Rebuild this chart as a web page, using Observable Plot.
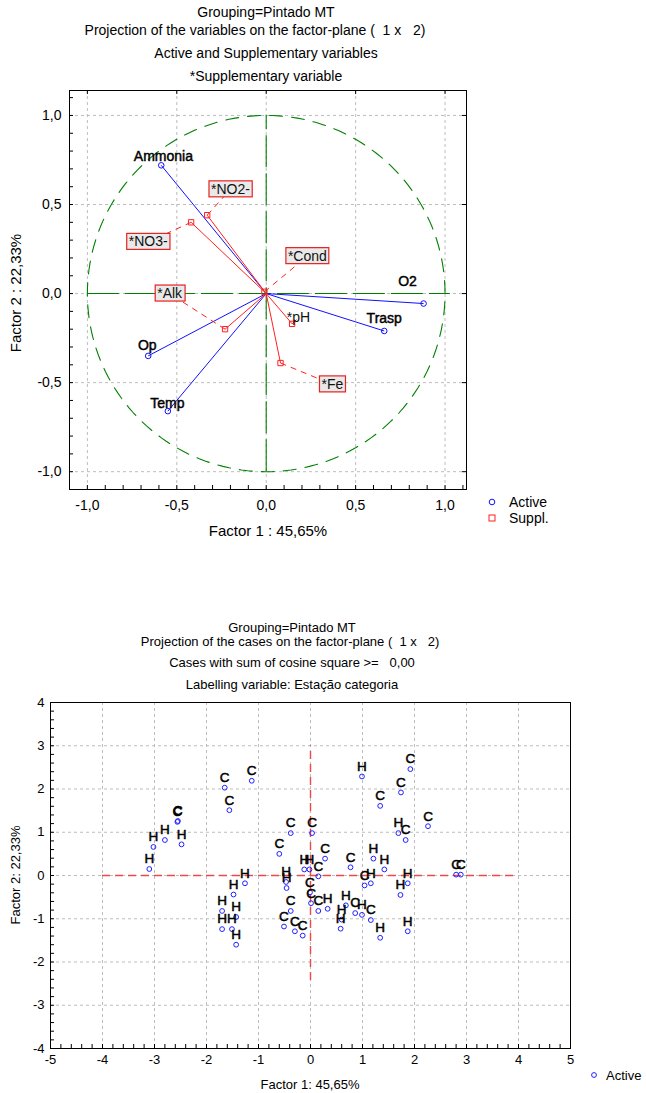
<!DOCTYPE html>
<html><head><meta charset="utf-8">
<script src="https://cdn.jsdelivr.net/npm/d3@7"></script>
<script src="https://cdn.jsdelivr.net/npm/@observablehq/plot@0.6"></script>
<style>
body{margin:0;background:#fff;font-family:"Liberation Sans",Arial,sans-serif;}
#page{position:relative;width:646px;height:1093px;overflow:hidden;background:#fff;}
.t{position:absolute;white-space:pre;color:#000;line-height:1;transform:translateX(-50%);}
.yt{position:absolute;white-space:pre;color:#000;line-height:1;transform:translate(-50%,-50%) rotate(-90deg);}
.lg{position:absolute;white-space:pre;color:#000;line-height:1;}
.plot{position:absolute;left:0;}
</style></head><body><div id="page"></div>
<script>
// ---------- Data: variables plot ----------
const varNames  = ["Ammonia", "O2", "Trasp", "Op", "Temp"];
const varF1     = [-0.587, 0.88, 0.66, -0.66, -0.55];
const varF2     = [0.72, -0.056, -0.21, -0.35, -0.66];
const varLabF1  = [-0.575, 0.79, 0.66, -0.665, -0.553];
const varLabF2  = [0.77, 0.07, -0.14, -0.29, -0.615];

const supNames  = ["*NO2-", "*NO3-", "*Cond", "*Alk", "*pH", "*Fe"];
const supF1     = [-0.33, -0.42, -0.01, -0.23, 0.145, 0.08];
const supF2     = [0.44, 0.40, 0.01, -0.20, -0.17, -0.39];
const supLabF1  = [-0.20, -0.66, 0.23, -0.54, 0.18, 0.37];
const supLabF2  = [0.585, 0.29, 0.21, 0.0, -0.135, -0.51];
const supBoxed  = [true, true, true, true, false, true];

const topTicks = [-1, -0.5, 0, 0.5, 1];

// ---------- Data: cases plot ----------
const caseF1 = [-1.65,-1.13,-1.56,-2.56,-2.55,-2.80,-3.02,-2.48,-3.10,-0.60,
  -1.26,-1.48,-1.70,-1.43,-1.70,-1.51,-1.43,0.99,1.92,1.74,
  1.34,-0.38,0.03,1.69,1.83,2.26,0.28,1.21,1.42,0.77,
  -0.12,-0.02,0.15,2.80,2.89,1.04,1.16,1.87,1.73,-0.47,
  -0.46,-0.01,0.01,0.15,0.33,0.68,0.86,0.99,1.16,0.60,
  0.58,-0.38,-0.51,-0.30,-0.15,1.34,1.87];
const caseF2 = [2.03,2.19,1.51,1.24,1.26,0.82,0.66,0.72,0.15,0.50,
  -0.18,-0.44,-0.82,-0.96,-1.24,-1.24,-1.60,2.29,2.46,1.92,
  1.61,0.98,0.98,0.98,0.82,1.14,0.39,0.39,0.14,0.19,
  0.14,0.14,-0.02,0.02,0.02,-0.23,-0.18,-0.18,-0.45,-0.15,
  -0.29,-0.39,-0.64,-0.82,-0.77,-0.69,-0.87,-0.91,-1.03,-1.02,
  -1.23,-0.82,-1.18,-1.29,-1.39,-1.44,-1.29];
const caseLab = ["C","C","C","C","C","H","H","H","H","C",
  "H","H","H","H","H","H","H","H","C","C",
  "C","C","C","H","C","C","C","H","H","C",
  "H","H","C","C","C","C","H","H","H","H",
  "H","C","C","C","H","H","C","H","C","H",
  "H","C","C","C","C","H","H"];

const botTicksX = [-5,-4,-3,-2,-1,0,1,2,3,4,5];
const botTicksY = [-4,-3,-2,-1,0,1,2,3,4];

// ---------- helpers ----------
const FONT = "Liberation Sans, Arial, sans-serif";
const page = document.getElementById("page");
function addDiv(cls, text, x, y, size, extra) {
  const d = document.createElement("div");
  d.className = cls; d.textContent = text;
  d.style.left = x + "px"; d.style.top = y + "px"; d.style.fontSize = size + "px";
  if (extra) Object.assign(d.style, extra);
  page.appendChild(d);
  return d;
}
const fmt1 = d => (d < 0 ? "-" : "") + Math.abs(d).toFixed(1).replace(".", ",");
const fmt0 = d => (d < 0 ? "-" : "") + Math.abs(d);

// ---------- Top plot ----------
const vars = varNames.map((n, i) => ({n, x: varF1[i], y: varF2[i], lx: varLabF1[i], ly: varLabF2[i]}));
const sups = supNames.map((n, i) => ({n, x: supF1[i], y: supF2[i], lx: supLabF1[i], ly: supLabF2[i]}));
const circle = d3.range(0, 361, 2).map(a => ({x: Math.cos(a * Math.PI / 180), y: Math.sin(a * Math.PI / 180)}));
const tXd = [-1.1, 1.12], tYd = [-1.1, 1.14];
const tMinorX = d3.range(-11, 12).map(k => k / 10);
const tMinorY = d3.range(-11, 12).map(k => k / 10);

const topPlot = Plot.plot({
  width: 646, height: 545,
  marginLeft: 69, marginRight: 180, marginTop: 90, marginBottom: 56,
  x: {domain: tXd, axis: null},
  y: {domain: tYd, axis: null},
  style: {fontFamily: FONT, fontSize: "14px", background: "transparent", color: "black", overflow: "visible"},
  marks: [
    Plot.ruleX(topTicks, {x: d => d, stroke: "#bdbdbd", strokeDasharray: "3,3"}),
    Plot.ruleY(topTicks, {y: d => d, stroke: "#bdbdbd", strokeDasharray: "3,3"}),
    Plot.line(circle, {x: "x", y: "y", stroke: "#008000", strokeWidth: 1.1, strokeDasharray: "13,9"}),
    Plot.ruleX([0], {x: d => d, y1: -1, y2: 1, stroke: "#008000", strokeWidth: 1.1, strokeDasharray: "32,6"}),
    Plot.ruleY([0], {y: d => d, x1: -1, x2: 1.03, stroke: "#008000", strokeWidth: 1.1, strokeDasharray: "32,6"}),
    Plot.link(vars, {x1: 0, y1: 0, x2: "x", y2: "y", stroke: "#1010ff", strokeWidth: 1}),
    Plot.link(sups, {x1: 0, y1: 0, x2: "x", y2: "y", stroke: "#ff2020", strokeWidth: 1}),
    Plot.link(sups, {x1: "x", y1: "y", x2: "lx", y2: "ly", stroke: "#ff2020", strokeWidth: 1, strokeDasharray: "6,5"}),
    Plot.dot(vars, {x: "x", y: "y", r: 2.8, stroke: "#1010ff", fill: "none", strokeWidth: 1}),
    Plot.dot(sups, {x: "x", y: "y", r: 3, symbol: "square", stroke: "#ff2020", fill: "none", strokeWidth: 1}),
    Plot.text(vars, {x: "lx", y: "ly", text: "n", fill: "black", stroke: "black", strokeWidth: 0.45, fontSize: 14}),
    Plot.text(sups, {x: "lx", y: "ly", text: "n", fill: "#111", fontSize: 14}),
    Plot.frame({stroke: "black", strokeWidth: 1}),
    Plot.ruleX(tMinorX.filter(v => v > tXd[0] && v < tXd[1]), {x: d => d, y1: tYd[0], y2: tYd[0], insetTop: -4, stroke: "black"}),
    Plot.ruleY(tMinorY.filter(v => v > tYd[0] && v < tYd[1]), {y: d => d, x1: tXd[0], x2: tXd[0], insetRight: -4, stroke: "black"}),
    Plot.ruleY(topTicks, {y: d => d, x1: tXd[1], x2: tXd[1], insetLeft: -4, stroke: "black"}),
    Plot.ruleX(topTicks, {x: d => d, y1: tYd[1], y2: tYd[1], insetBottom: -4, stroke: "black"}),
    Plot.text(topTicks, {x: d => d, frameAnchor: "bottom", dy: 20, text: fmt1, fontSize: 14, fill: "black"}),
    Plot.text(topTicks, {y: d => d, frameAnchor: "left", dx: -8, textAnchor: "end", text: fmt1, fontSize: 14, fill: "black"})
  ]
});
topPlot.classList.add("plot");
topPlot.style.top = "0px";
page.appendChild(topPlot);

// boxes behind supplementary labels
d3.select(topPlot).selectAll("text").each(function () {
  const i = supNames.indexOf(this.textContent);
  if (i >= 0 && supBoxed[i]) {
    const b = this.getBBox();
    const r = document.createElementNS("http://www.w3.org/2000/svg", "rect");
    r.setAttribute("x", b.x - 2); r.setAttribute("y", b.y);
    r.setAttribute("width", b.width + 4); r.setAttribute("height", b.height);
    r.setAttribute("fill", "#e9e9e9"); r.setAttribute("stroke", "#e82020"); r.setAttribute("stroke-width", "1.2");
    const tr = this.getAttribute("transform"); if (tr) r.setAttribute("transform", tr);
    this.parentNode.insertBefore(r, this);
  }
});

// top titles
addDiv("t", "Grouping=Pintado MT", 266, 5, 14);
addDiv("t", "Projection of the variables on the factor-plane (  1 x   2)", 255, 23, 14);
addDiv("t", "Active and Supplementary variables", 266, 46, 14);
addDiv("t", "*Supplementary variable", 266, 69, 14);
addDiv("t", "Factor 1 : 45,65%", 268, 523, 15);
addDiv("yt", "Factor 2 : 22,33%", 15, 293, 15);
// top legend
{
  const s = document.createElementNS("http://www.w3.org/2000/svg", "svg");
  s.setAttribute("width", 12); s.setAttribute("height", 40);
  s.style.position = "absolute"; s.style.left = "486px"; s.style.top = "495px";
  s.innerHTML = '<circle cx="6" cy="7" r="2.8" fill="none" stroke="#1010ff"/><rect x="3" y="20" width="6" height="6" fill="none" stroke="#ff2020"/>';
  page.appendChild(s);
  addDiv("lg", "Active", 509, 495, 14);
  addDiv("lg", "Suppl.", 509, 511, 14);
}

// ---------- Bottom plot ----------
const cases = caseLab.map((l, i) => ({l, x: caseF1[i], y: caseF2[i]}));
const bXd = [-5, 5], bYd = [-4, 4];
const bMinorX = d3.range(-25, 26).map(k => k / 5);
const bMinorY = d3.range(-20, 21).map(k => k / 5);
const botTop = 600;
const botPlot = Plot.plot({
  width: 646, height: 493,
  marginLeft: 50, marginRight: 76, marginTop: 102, marginBottom: 45,
  x: {domain: bXd, axis: null},
  y: {domain: bYd, axis: null},
  style: {fontFamily: FONT, fontSize: "13px", background: "transparent", color: "black", overflow: "visible"},
  marks: [
    Plot.ruleX(botTicksX.slice(1, -1), {x: d => d, stroke: "#bdbdbd", strokeDasharray: "3,3"}),
    Plot.ruleY(botTicksY.slice(1, -1), {y: d => d, stroke: "#bdbdbd", strokeDasharray: "3,3"}),
    Plot.ruleY([0], {y: d => d, x1: -4, x2: 4, stroke: "#f04848", strokeWidth: 1.4, strokeDasharray: "8,5"}),
    Plot.ruleX([0], {x: d => d, y1: -2.43, y2: 3, stroke: "#f04848", strokeWidth: 1.4, strokeDasharray: "8,5"}),
    Plot.dot(cases, {x: "x", y: "y", r: 2.4, stroke: "#2020ff", fill: "none", strokeWidth: 1}),
    Plot.text(cases, {x: "x", y: "y", text: "l", dy: -10, fontSize: 13.5, fill: "black", stroke: "black", strokeWidth: 0.5}),
    Plot.frame({stroke: "black", strokeWidth: 1}),
    Plot.ruleX(bMinorX.filter(v => v > bXd[0] && v < bXd[1]), {x: d => d, y1: bYd[0], y2: bYd[0], insetTop: -4, stroke: "black"}),
    Plot.ruleY(bMinorY.filter(v => v > bYd[0] && v < bYd[1]), {y: d => d, x1: bXd[0], x2: bXd[0], insetRight: -4, stroke: "black"}),
    Plot.text(botTicksX, {x: d => d, frameAnchor: "bottom", dy: 15, text: fmt0, fontSize: 13, fill: "black"}),
    Plot.text(botTicksY, {y: d => d, frameAnchor: "left", dx: -6, textAnchor: "end", text: fmt0, fontSize: 13, fill: "black"})
  ]
});
botPlot.classList.add("plot");
botPlot.style.top = botTop + "px";
page.appendChild(botPlot);

addDiv("t", "Grouping=Pintado MT", 292, 621, 13);
addDiv("t", "Projection of the cases on the factor-plane (  1 x   2)", 290, 635, 13);
addDiv("t", "Cases with sum of cosine square >=   0,00", 292, 656, 13);
addDiv("t", "Labelling variable: Estação categoria", 292, 678, 13);
addDiv("t", "Factor 1: 45,65%", 310, 1078, 13);
addDiv("yt", "Factor 2: 22,33%", 15, 875, 13);
{
  const s = document.createElementNS("http://www.w3.org/2000/svg", "svg");
  s.setAttribute("width", 12); s.setAttribute("height", 12);
  s.style.position = "absolute"; s.style.left = "588px"; s.style.top = "1069px";
  s.innerHTML = '<circle cx="6" cy="6" r="2.4" fill="none" stroke="#2020ff"/>';
  page.appendChild(s);
  addDiv("lg", "Active", 606, 1069, 13);
}
</script></body></html>
